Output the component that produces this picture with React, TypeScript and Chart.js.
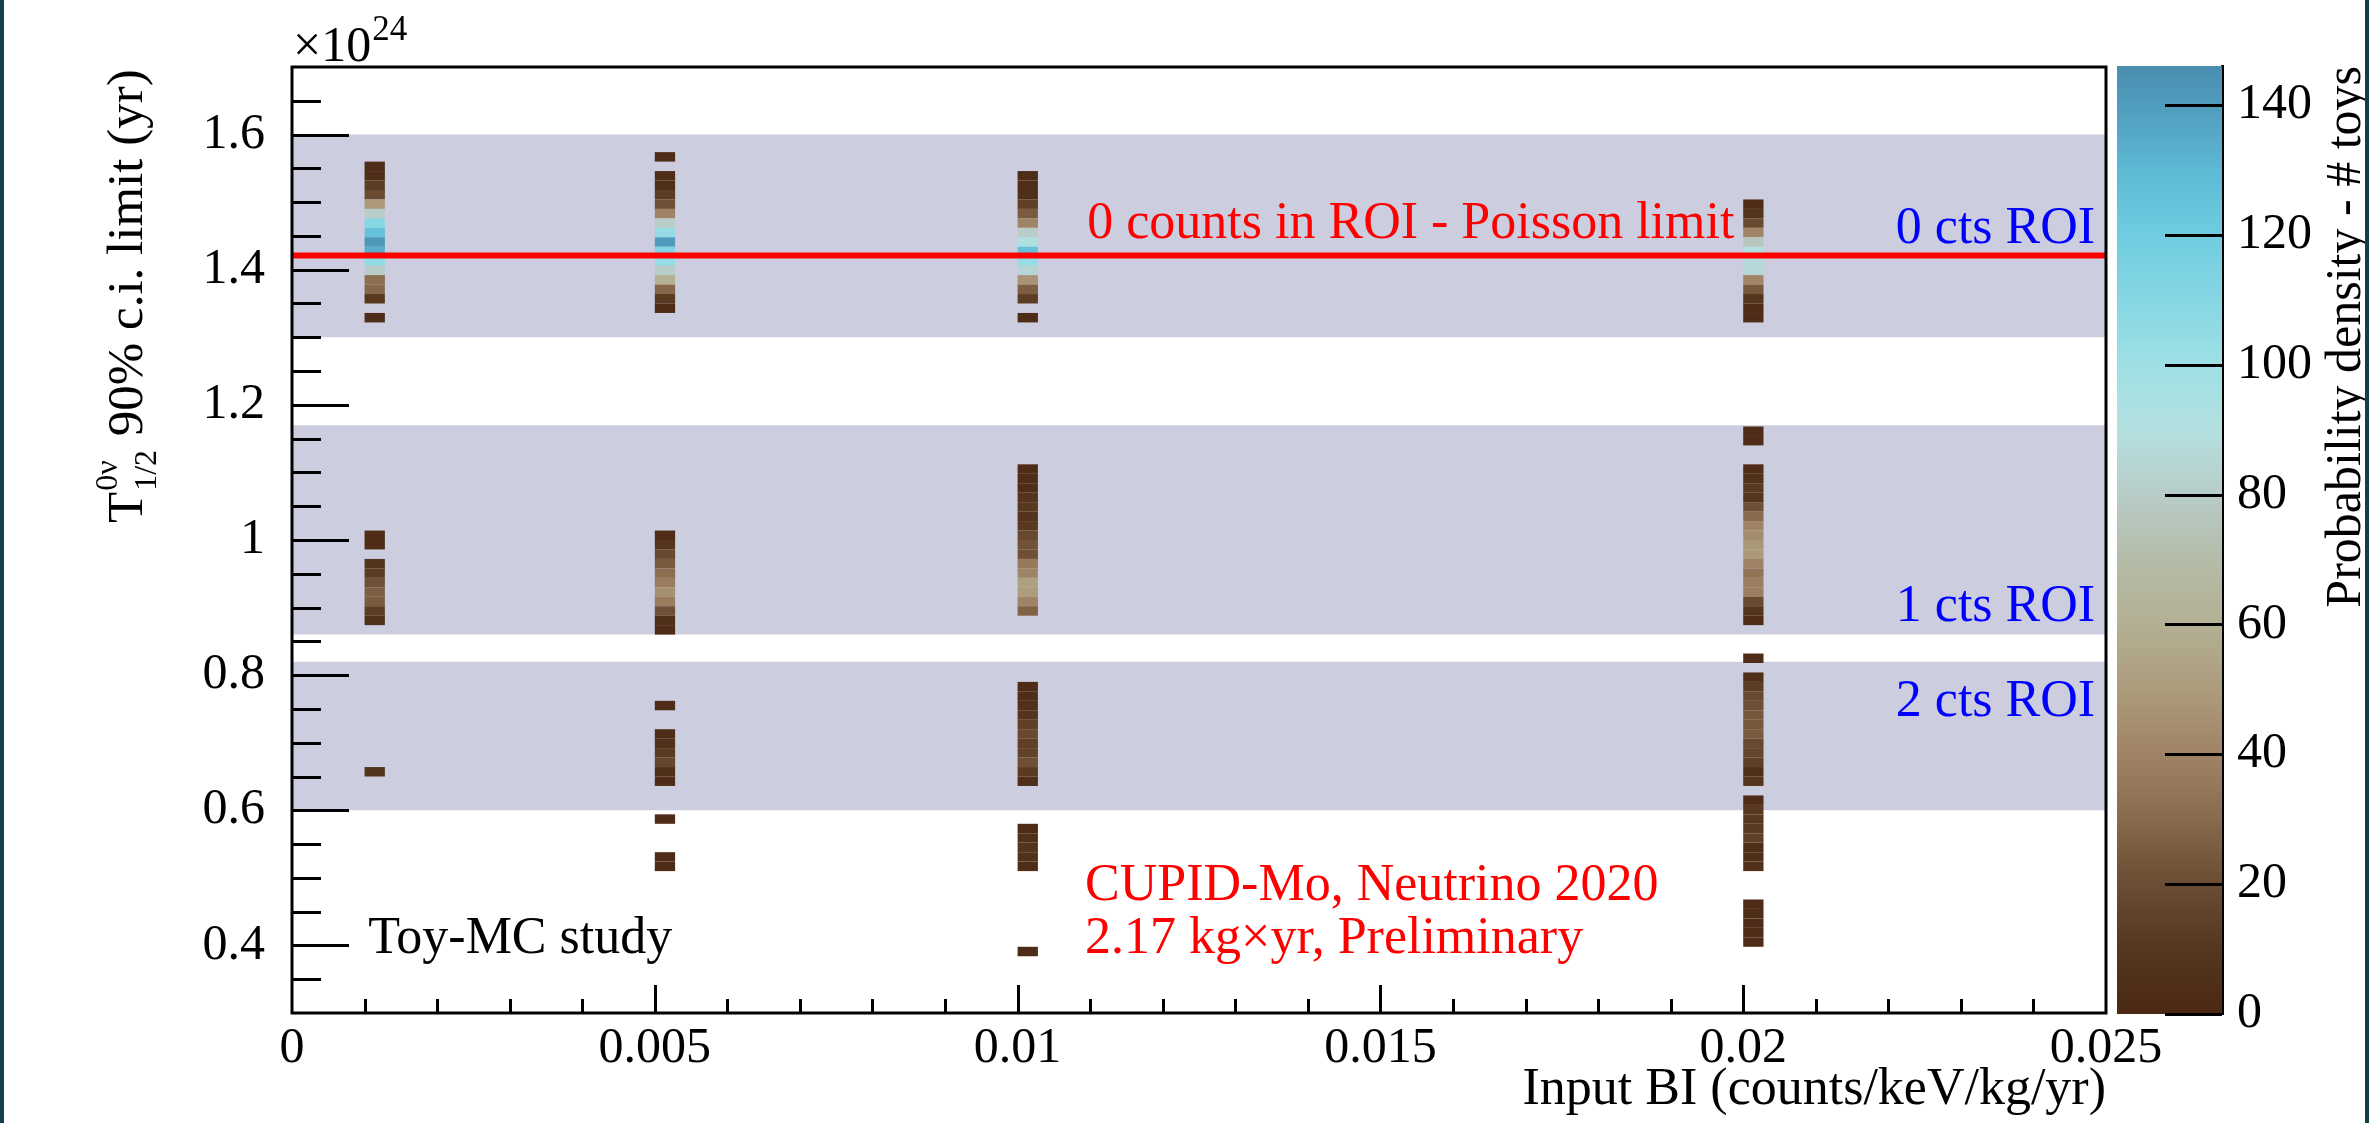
import React, { useEffect, useRef } from "react";
import { Chart, registerables } from "chart.js";

Chart.register(...registerables);

const W = 2369;
const H = 1123;
const SERIF = "'Liberation Serif', 'Times New Roman', Times, serif";

// ---------- axes ----------
const xMin = 0;
const xMax = 0.025;
const yMin = 0.3;
const yMax = 1.7;
const zMax = 146;

const xTickValues = [0, 0.005, 0.01, 0.015, 0.02, 0.025];
const xTickLabels = ["0", "0.005", "0.01", "0.015", "0.02", "0.025"];
const yTickValues = [0.4, 0.6, 0.8, 1.0, 1.2, 1.4, 1.6];
const yTickLabels = ["0.4", "0.6", "0.8", "1", "1.2", "1.4", "1.6"];
const zTickValues = [0, 20, 40, 60, 80, 100, 120, 140];
const zTickLabels = ["0", "20", "40", "60", "80", "100", "120", "140"];

const xTitle = "Input BI (counts/keV/kg/yr)";
const zTitle = "Probability density - # toys";

// ---------- histogram binning ----------
const inputBI = [0.001, 0.005, 0.01, 0.02];
const xBinWidth = 0.00028;
const yBinWidth = 0.014;

// lower edges of the T1/2 bins (x1e24 yr) and number of toys, per input BI
const bi001Edges = [1.546, 1.532, 1.518, 1.504, 1.490, 1.476, 1.462, 1.448, 1.434, 1.420, 1.406, 1.392, 1.378, 1.364, 1.350, 1.322,
  1.000, 0.986, 0.958, 0.944, 0.930, 0.916, 0.902, 0.888, 0.874, 0.650];
const bi001Toys = [3, 3, 13, 19, 49, 80, 109, 126, 142, 134, 106, 80, 31, 29, 11, 3,
  3, 3, 8, 13, 21, 26, 25, 13, 6, 8];

const bi005Edges = [1.560, 1.532, 1.518, 1.504, 1.490, 1.476, 1.462, 1.448, 1.434, 1.420, 1.406, 1.392, 1.378, 1.364, 1.350, 1.336,
  1.000, 0.986, 0.972, 0.958, 0.944, 0.930, 0.916, 0.902, 0.888, 0.874, 0.860,
  0.748, 0.706, 0.692, 0.678, 0.664, 0.650, 0.636, 0.580, 0.524, 0.510];
const bi005Toys = [3, 4, 5, 13, 21, 40, 80, 104, 140, 113, 104, 80, 60, 29, 12, 3,
  3, 8, 18, 25, 31, 37, 45, 37, 21, 5, 3,
  3, 3, 6, 12, 17, 5, 3, 3, 3, 3];

const bi010Edges = [1.532, 1.518, 1.504, 1.490, 1.476, 1.462, 1.448, 1.434, 1.420, 1.406, 1.392, 1.378, 1.364, 1.350, 1.322,
  1.098, 1.084, 1.070, 1.056, 1.042, 1.028, 1.014, 1.000, 0.986, 0.972, 0.958, 0.944, 0.930, 0.916, 0.902, 0.888,
  0.776, 0.762, 0.748, 0.734, 0.720, 0.706, 0.692, 0.678, 0.664, 0.650, 0.636,
  0.566, 0.552, 0.538, 0.524, 0.510, 0.384];
const bi010Toys = [3, 4, 5, 14, 25, 40, 80, 93, 126, 104, 85, 47, 26, 13, 3,
  3, 4, 4, 8, 11, 8, 11, 18, 22, 21, 36, 40, 52, 50, 40, 27,
  3, 4, 6, 8, 14, 18, 14, 15, 21, 12, 5,
  3, 6, 8, 6, 4, 3];

const bi020Edges = [1.490, 1.476, 1.462, 1.448, 1.434, 1.420, 1.406, 1.392, 1.378, 1.364, 1.350, 1.336, 1.322,
  1.154, 1.140, 1.098, 1.084, 1.070, 1.056, 1.042, 1.028, 1.014, 1.000, 0.986, 0.972, 0.958, 0.944, 0.930, 0.916, 0.902, 0.888, 0.874,
  0.818, 0.790, 0.776, 0.762, 0.748, 0.734, 0.720, 0.706, 0.692, 0.678, 0.664, 0.650, 0.636,
  0.608, 0.594, 0.580, 0.566, 0.552, 0.538, 0.524, 0.510,
  0.454, 0.440, 0.426, 0.412, 0.398];
const bi020Toys = [3, 8, 19, 41, 77, 89, 87, 86, 41, 24, 8, 3, 3,
  3, 3, 3, 6, 11, 8, 21, 30, 40, 44, 48, 49, 40, 34, 38, 38, 18, 8, 3,
  3, 5, 13, 18, 21, 24, 24, 25, 18, 17, 14, 5, 8,
  3, 11, 11, 12, 14, 5, 5, 6,
  3, 4, 3, 3, 3];

const columnEdges = [bi001Edges, bi005Edges, bi010Edges, bi020Edges];
const columnToys = [bi001Toys, bi005Toys, bi010Toys, bi020Toys];

// ---------- ROI bands and Poisson limit ----------
const bandLabels = ["0 cts ROI", "1 cts ROI", "2 cts ROI"];
const bandTop = [1.6, 1.17, 0.82];
const bandBottom = [1.3, 0.86, 0.6];
const poissonLimit = 1.421;

// ---------- colour palette (value -> colour) ----------
const paletteStops = [0, 11, 20.8, 30.7, 40.5, 50, 60, 70, 80, 89.6, 99.5, 109, 120, 129, 140, 146];
const paletteColors = ["#4a2814", "#58381f", "#6e4e34", "#8c6c4e", "#a08466", "#ac9c7c", "#b4b094", "#b4bca8",
  "#b8ccc8", "#b4e0e0", "#a0e0e4", "#88d8e4", "#70cce0", "#60bcd6", "#4f9cbc", "#4a8eb0"];

function hexToRgb(h: string) {
  const n = parseInt(h.slice(1), 16);
  return [(n >> 16) & 255, (n >> 8) & 255, n & 255];
}
function paletteColor(z: number): string {
  const t = Math.max(0, Math.min(zMax, z));
  for (let i = 0; i < paletteStops.length - 1; i++) {
    if (t <= paletteStops[i + 1]) {
      const f = (t - paletteStops[i]) / (paletteStops[i + 1] - paletteStops[i]);
      const a = hexToRgb(paletteColors[i]);
      const b = hexToRgb(paletteColors[i + 1]);
      const c = a.map((v, k) => Math.round(v + (b[k] - v) * f));
      return `rgb(${c[0]},${c[1]},${c[2]})`;
    }
  }
  return paletteColors[paletteColors.length - 1];
}

const annotationTexts = [
  { text: "0 counts in ROI - Poisson limit", x: 0.01096, y: 1.447, align: "left", color: "#ff0000" },
  { text: bandLabels[0], x: 0.02485, y: 1.4395, align: "right", color: "#0000ff" },
  { text: bandLabels[1], x: 0.02485, y: 0.88, align: "right", color: "#0000ff" },
  { text: bandLabels[2], x: 0.02485, y: 0.74, align: "right", color: "#0000ff" },
  { text: "Toy-MC study", x: 0.00105, y: 0.389, align: "left", color: "#000000" },
  { text: "CUPID-Mo, Neutrino 2020", x: 0.01093, y: 0.467, align: "left", color: "#ff0000" },
  { text: "2.17 kg\u00d7yr, Preliminary", x: 0.01093, y: 0.389, align: "left", color: "#ff0000" },
];

const rootDecor = {
  id: "rootDecor",
  afterDatasetsDraw(chart: any) {
    const { ctx, chartArea, scales } = chart;
    const { left, right, top, bottom } = chartArea;
    const xs = scales.x;
    const ys = scales.y;
    ctx.save();
    // texts
    ctx.font = `52px ${SERIF}`;
    ctx.textBaseline = "alphabetic";
    for (const a of annotationTexts) {
      ctx.fillStyle = a.color;
      ctx.textAlign = a.align;
      ctx.fillText(a.text, xs.getPixelForValue(a.x), ys.getPixelForValue(a.y));
    }
    // ticks
    ctx.strokeStyle = "#000";
    ctx.lineWidth = 3;
    ctx.beginPath();
    for (let i = 7; i <= 33; i++) {
      const v = i * 0.05;
      const len = i % 4 === 0 ? 57 : 29;
      const y = Math.round(ys.getPixelForValue(v)) + 0.5;
      ctx.moveTo(left, y);
      ctx.lineTo(left + len, y);
    }
    for (let i = 1; i < 25; i++) {
      const v = i * 0.001;
      const len = i % 5 === 0 ? 28 : 14;
      const x = Math.round(xs.getPixelForValue(v)) + 0.5;
      ctx.moveTo(x, bottom);
      ctx.lineTo(x, bottom - len);
    }
    ctx.stroke();
    // frame
    ctx.lineWidth = 3;
    ctx.strokeRect(left, top, right - left, bottom - top);
    ctx.restore();
  },
  afterDraw(chart: any) {
    const { ctx, chartArea } = chart;
    ctx.save();
    ctx.fillStyle = "#000";
    ctx.textBaseline = "alphabetic";
    ctx.textAlign = "left";
    // exponent
    ctx.font = `50px ${SERIF}`;
    const ex = chartArea.left + 1;
    ctx.fillText("\u00d710", ex, 61);
    const w10 = ctx.measureText("\u00d710").width;
    ctx.font = `35px ${SERIF}`;
    ctx.fillText("24", ex + w10 + 1, 40);
    // y title
    ctx.translate(142, 523);
    ctx.rotate(-Math.PI / 2);
    ctx.font = `51px ${SERIF}`;
    ctx.fillText("T", 0, 0);
    const tW = ctx.measureText("T").width;
    ctx.font = `32px ${SERIF}`;
    ctx.fillText("0\u03bd", tW + 1, -25);
    ctx.fillText("1/2", tW + 1, 14);
    const sW = Math.max(ctx.measureText("0\u03bd").width, ctx.measureText("1/2").width);
    ctx.font = `51px ${SERIF}`;
    ctx.fillText(" 90% c.i. limit (yr)", tW + sW + 2, 0);
    ctx.restore();
  },
};

const colorbarDecor = {
  id: "colorbarDecor",
  afterDraw(chart: any) {
    const { ctx, chartArea, scales } = chart;
    const ys = scales.y;
    ctx.save();
    ctx.strokeStyle = "#000";
    ctx.lineWidth = 3;
    ctx.beginPath();
    for (const v of zTickValues) {
      const y = Math.round(ys.getPixelForValue(v)) + 0.5;
      ctx.moveTo(chartArea.right, y);
      ctx.lineTo(chartArea.right - 57, y);
    }
    ctx.stroke();
    ctx.fillStyle = "#000";
    ctx.font = `50px ${SERIF}`;
    ctx.textAlign = "right";
    ctx.textBaseline = "alphabetic";
    ctx.translate(2360, chartArea.top);
    ctx.rotate(-Math.PI / 2);
    ctx.fillText(zTitle, 0, 0);
    ctx.restore();
  },
};

export default function App() {
  const mainRef = useRef<HTMLCanvasElement>(null);
  const barRef = useRef<HTMLCanvasElement>(null);

  useEffect(() => {
    Chart.defaults.font.family = SERIF;
    Chart.defaults.color = "#000";

    const gaps = inputBI.slice(1).map((v, i) => v - inputBI[i]);
    const minGap = Math.min(...gaps);

    const heatDatasets = columnEdges.map((edges, i) => ({
      type: "bar",
      label: `Input BI ${inputBI[i]}`,
      data: edges.map((e, j) => ({ x: inputBI[i] + xBinWidth / 2, y: [e, e + yBinWidth], toys: columnToys[i][j] })),
      backgroundColor: columnToys[i].map(paletteColor),
      borderWidth: 0,
      grouped: false,
      barPercentage: xBinWidth / minGap,
      categoryPercentage: 1,
      order: 1,
    }));

    const bandDatasets = bandLabels.map((lab, i) => ({
      type: "line",
      label: lab,
      data: [{ x: xMin, y: bandTop[i] }, { x: xMax, y: bandTop[i] }],
      borderColor: "#cdcde0",
      borderWidth: 0,
      backgroundColor: "#cdcde0",
      fill: { value: bandBottom[i] },
      pointRadius: 0,
      order: 2,
    }));

    const limitDataset = {
      type: "line",
      label: "0 counts in ROI - Poisson limit",
      data: [{ x: xMin, y: poissonLimit }, { x: xMax, y: poissonLimit }],
      borderColor: "#ff0000",
      borderWidth: 6,
      pointRadius: 0,
      fill: false,
      order: 0,
    };

    const tickFont = { family: SERIF, size: 50 };

    const main = new Chart(mainRef.current as HTMLCanvasElement, {
      type: "bar",
      data: { datasets: [limitDataset, ...heatDatasets, ...bandDatasets] as any },
      options: {
        animation: false,
        responsive: false,
        devicePixelRatio: 1,
        layout: { padding: { left: 0, top: 67, right: 263, bottom: 0 } },
        plugins: { legend: { display: false }, tooltip: { enabled: false } },
        scales: {
          x: {
            type: "linear",
            min: xMin,
            max: xMax,
            offset: false,
            grid: { display: false, drawTicks: false },
            border: { display: false },
            afterBuildTicks: (s: any) => { s.ticks = xTickValues.map((v) => ({ value: v })); },
            afterFit: (s: any) => { s.height = 110; },
            ticks: {
              callback: (_v: any, i: number) => xTickLabels[i],
              font: tickFont,
              color: "#000",
              padding: 6,
              maxRotation: 0,
              autoSkip: false,
            },
            title: {
              display: true,
              text: xTitle,
              align: "end",
              color: "#000",
              font: { family: SERIF, size: 52 },
              padding: { top: 0, bottom: 1 },
            },
          },
          y: {
            type: "linear",
            position: "left",
            min: yMin,
            max: yMax,
            grid: { display: false, drawTicks: false },
            border: { display: false },
            afterBuildTicks: (s: any) => { s.ticks = yTickValues.map((v) => ({ value: v })); },
            afterFit: (s: any) => { s.width = 292; },
            ticks: {
              callback: (_v: any, i: number) => yTickLabels[i],
              font: tickFont,
              color: "#000",
              padding: 27,
            },
          },
        },
      } as any,
      plugins: [rootDecor],
    });

    const colorbar = new Chart(barRef.current as HTMLCanvasElement, {
      type: "bar",
      data: {
        labels: ["z"],
        datasets: [{
          label: zTitle,
          data: [[0, zMax]],
          borderWidth: 0,
          barPercentage: 1,
          categoryPercentage: 1,
          backgroundColor: (c: any) => {
            const chart = c.chart;
            if (!chart.chartArea) return paletteColors[0];
            const ys = chart.scales.y;
            const g = chart.ctx.createLinearGradient(0, ys.getPixelForValue(0), 0, ys.getPixelForValue(zMax));
            paletteStops.forEach((s, i) => g.addColorStop(s / zMax, paletteColors[i]));
            return g;
          },
        }] as any,
      },
      options: {
        animation: false,
        responsive: false,
        devicePixelRatio: 1,
        layout: { padding: { left: 2117, top: 66, right: 0, bottom: 109 } },
        plugins: { legend: { display: false }, tooltip: { enabled: false } },
        scales: {
          x: { display: false },
          y: {
            position: "right",
            min: 0,
            max: zMax,
            grid: { display: false, drawTicks: false },
            border: { display: true, color: "#000", width: 3 },
            afterBuildTicks: (s: any) => { s.ticks = zTickValues.map((v) => ({ value: v })); },
            afterFit: (s: any) => { s.width = 147; },
            ticks: {
              callback: (_v: any, i: number) => zTickLabels[i],
              font: tickFont,
              color: "#000",
              padding: 15,
            },
          },
        },
      } as any,
      plugins: [colorbarDecor],
    });

    return () => {
      main.destroy();
      colorbar.destroy();
    };
  }, []);

  return (
    <div style={{ position: "absolute", left: 0, top: 0, width: W, height: H, background: "#fff", overflow: "hidden" }}>
      <canvas ref={mainRef} width={W} height={H} style={{ position: "absolute", left: 0, top: 0, width: W, height: H }} />
      <canvas ref={barRef} width={W} height={H} style={{ position: "absolute", left: 0, top: 0, width: W, height: H }} />
      <div style={{ position: "absolute", left: 0, top: 0, width: 4, height: H, background: "#123f4c" }} />
      <div style={{ position: "absolute", left: W - 4, top: 0, width: 4, height: H, background: "#123f4c" }} />
    </div>
  );
}
